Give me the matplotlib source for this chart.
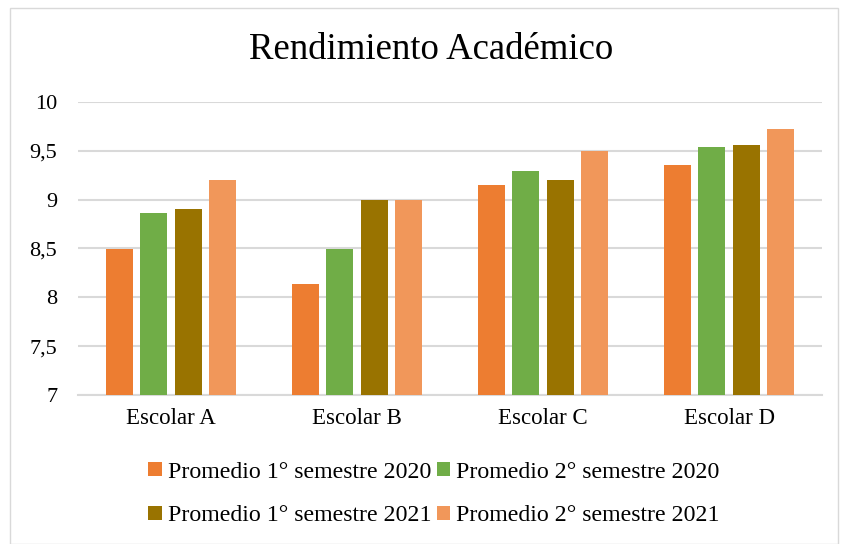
import matplotlib.pyplot as plt
import numpy as np

plt.rcParams['font.family'] = ['Liberation Serif', 'DejaVu Serif']

# Data
categories = ['Escolar A', 'Escolar B', 'Escolar C', 'Escolar D']
series_names = ['Promedio 1° semestre 2020', 'Promedio 2° semestre 2020',
                'Promedio 1° semestre 2021', 'Promedio 2° semestre 2021']
sem1_2020 = [8.50, 8.14, 9.15, 9.35]
sem2_2020 = [8.86, 8.50, 9.29, 9.54]
sem1_2021 = [8.90, 9.00, 9.20, 9.56]
sem2_2021 = [9.20, 9.00, 9.50, 9.72]
yticks = [7, 7.5, 8, 8.5, 9, 9.5, 10]
ytick_labels = ['7', '7,5', '8', '8,5', '9', '9,5', '10']

colors = ['#ED7D31', '#70AD47', '#997300', '#F1975A']

fig = plt.figure(figsize=(8.41, 5.44), dpi=100)
ax = fig.add_axes([78 / 841, 1 - 395 / 544, 744 / 841, 293 / 544])

x = np.arange(len(categories))
step = 0.183
width = 0.145
all_series = [sem1_2020, sem2_2020, sem1_2021, sem2_2021]
bars = []
for i, (vals, name, c) in enumerate(zip(all_series, series_names, colors)):
    b = ax.bar(x + (i - 1.5) * step, np.array(vals) - 7, width, bottom=7,
               color=c, label=name, zorder=3)
    bars.append(b)

ax.set_xlim(-0.5, len(categories) - 0.5)
ax.set_ylim(7, 10)
ax.set_yticks(yticks)
ax.set_yticklabels(ytick_labels, fontsize=16)
ax.set_xticks(x)
ax.set_xticklabels(categories, fontsize=16.5)
ax.tick_params(axis='both', length=0)
ax.tick_params(axis='x', pad=9)
ax.tick_params(axis='y', pad=15)
ax.grid(axis='y', color='#D9D9D9', linewidth=1.5, zorder=0)
for s in ['top', 'right', 'left']:
    ax.spines[s].set_visible(False)
ax.spines['bottom'].set_color('#D9D9D9')
ax.spines['bottom'].set_linewidth(1.5)

fig.text(431 / 841, 1 - 50 / 544, 'Rendimiento Académico', ha='center', va='center',
         fontsize=26.5, color='black')

# row-wise legend order
order = [0, 2, 1, 3]
leg = fig.legend([bars[i] for i in order], [series_names[i] for i in order],
                 loc='center', bbox_to_anchor=(434 / 841, 1 - 494 / 544), ncol=2,
                 frameon=False, fontsize=17.2, handlelength=0.55, handleheight=0.55,
                 handletextpad=0.25, columnspacing=0.25, labelspacing=0.95)

# light border around chart area
fig.patches.append(plt.Rectangle((10 / 841, 0.0), 828 / 841, 0.985, transform=fig.transFigure,
                                 fill=False, edgecolor='#D9D9D9', linewidth=1))

fig.savefig('out.png', dpi=100)
